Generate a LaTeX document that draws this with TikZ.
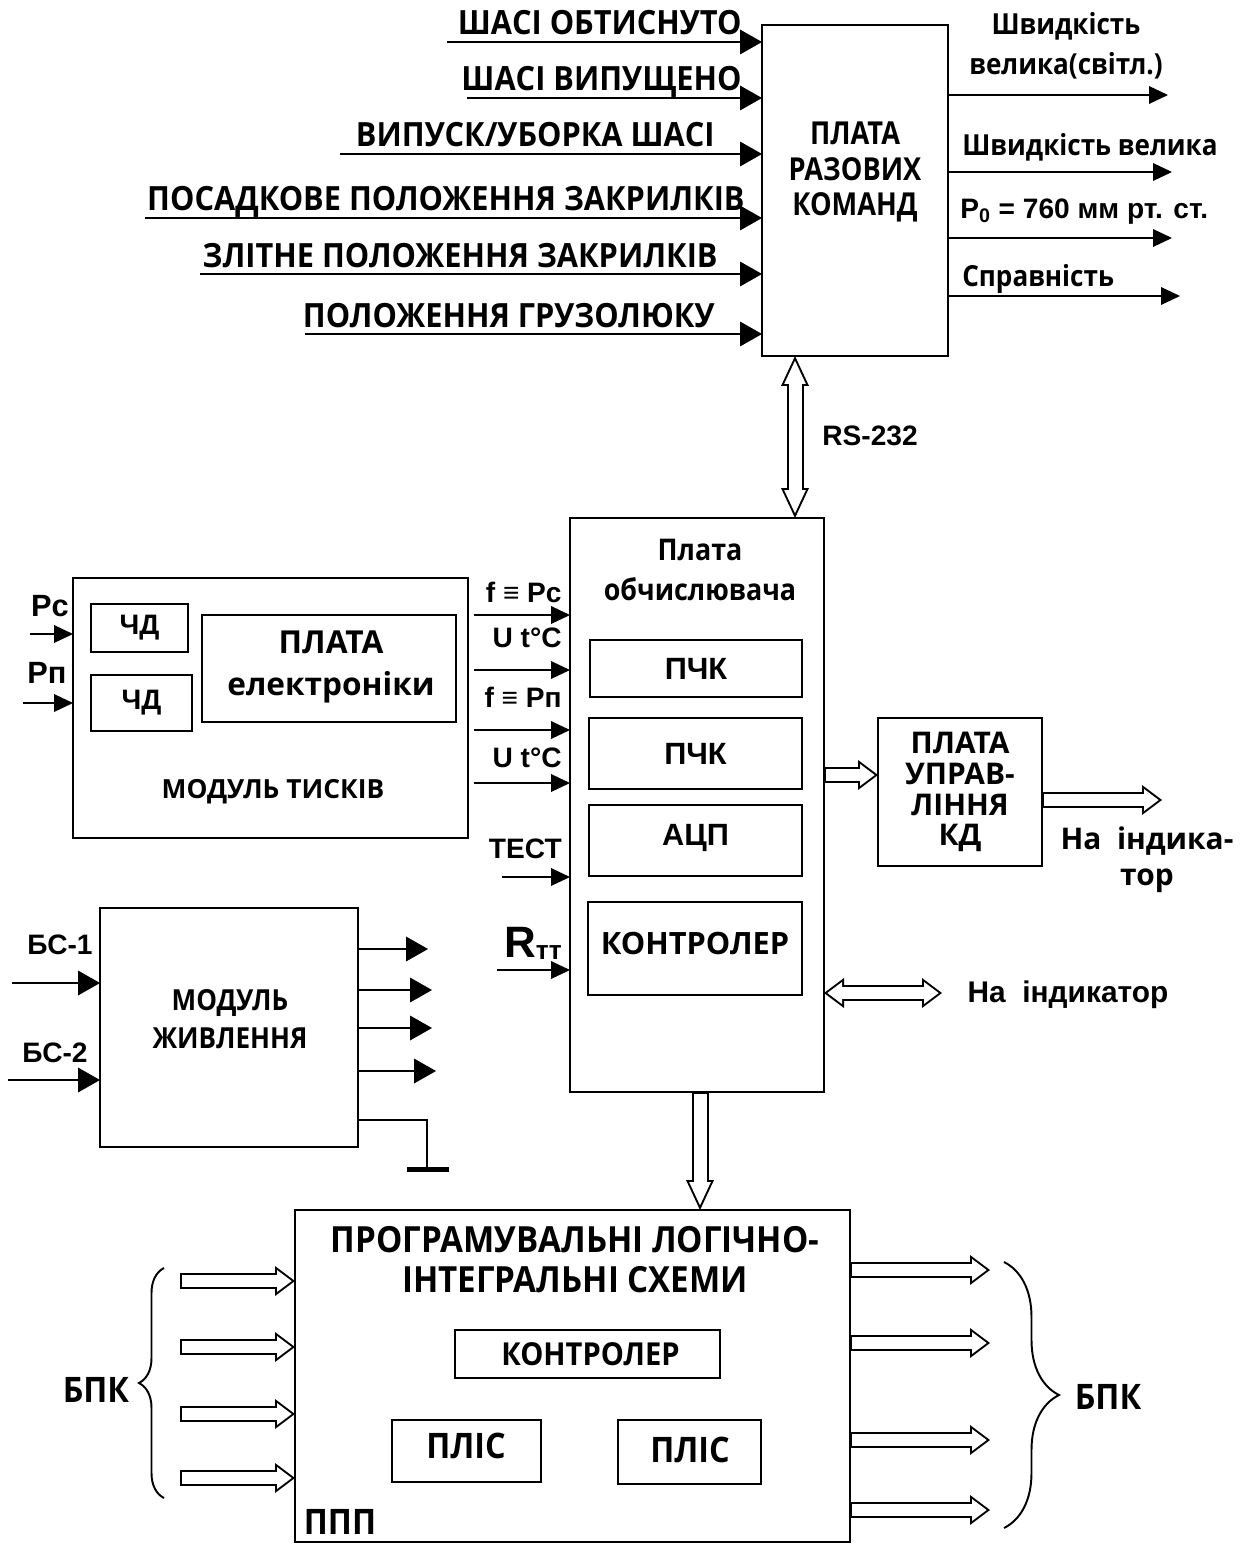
\documentclass[tikz,border=0pt]{standalone}
\usepackage{fontspec}
\setmainfont{Liberation Sans}
\newfontfamily\os{Open Sans}
\newfontfamily\osn[FakeStretch=0.9]{Open Sans}
\newfontfamily\oc[FakeStretch=0.86]{Open Sans}
\newfontfamily\ow[FakeStretch=0.92]{Open Sans}
\usetikzlibrary{arrows.meta,positioning,calc,decorations.pathreplacing}
\tikzset{
  blk/.style 2 args={draw,line width=1.1pt,minimum width=#1*0.02cm,minimum height=#2*0.02cm,inner sep=0pt,outer sep=0pt},
  arr/.style={line width=1.1pt,-{Triangle[length=0.44cm,width=0.50cm,line width=0pt]}},
  arrs/.style={line width=1.1pt,-{Triangle[length=0.38cm,width=0.36cm,line width=0pt]}},
  hol/.style={draw,line width=0.32cm,-{Triangle[length=0.4cm,width=0.6cm,line width=0pt]},
    postaction={draw=white,line width=0.24cm,shorten <=0.04cm,shorten >=0.067cm,-{Triangle[length=0.293cm,width=0.44cm,line width=0pt]}}},
  dhol/.style={draw,line width=0.32cm,{Triangle[length=0.4cm,width=0.6cm,line width=0pt]}-{Triangle[length=0.4cm,width=0.6cm,line width=0pt]},
    postaction={draw=white,line width=0.24cm,shorten <=0.067cm,shorten >=0.067cm,{Triangle[length=0.293cm,width=0.44cm,line width=0pt]}-{Triangle[length=0.293cm,width=0.44cm,line width=0pt]}}},
  vhol/.style={draw,line width=0.34cm,-{Triangle[length=0.6cm,width=0.56cm,line width=0pt]},
    postaction={draw=white,line width=0.26cm,shorten <=0.04cm,shorten >=0.095cm,-{Triangle[length=0.465cm,width=0.434cm,line width=0pt]}}},
  dvhol/.style={draw,line width=0.34cm,{Triangle[length=0.6cm,width=0.56cm,line width=0pt]}-{Triangle[length=0.6cm,width=0.56cm,line width=0pt]},
    postaction={draw=white,line width=0.26cm,shorten <=0.095cm,shorten >=0.095cm,{Triangle[length=0.465cm,width=0.434cm,line width=0pt]}-{Triangle[length=0.465cm,width=0.434cm,line width=0pt]}}},
  brc/.style={decorate,decoration={brace,amplitude=#1},line width=1.1pt},
  toplbl/.style={font=\ow\bfseries\fontsize{19}{22}\selectfont,anchor=base east,inner sep=0pt},
  arb/.style={font=\bfseries\fontsize{16}{19}\selectfont,inner sep=0pt},
}
\begin{document}
\begin{tikzpicture}[x=0.02cm,y=-0.02cm]
\useasboundingbox (0,0) rectangle (1249,1544);
% plata razovykh komand
\node[blk={186}{331}] (prk) at (855,190.5) {};
\node[font=\oc\bfseries\fontsize{18}{20}\selectfont,align=center] (prkt) at (855,172) {ПЛАТА\\РАЗОВИХ\\КОМАНД};
\foreach \y/\x/\r/\t [count=\i] in {42/447/742/{ШАСІ ОБТИСНУТО},98/467/742/{ШАСІ ВИПУЩЕНО},154/340/715/{ВИПУСК/УБОРКА ШАСІ},
    218/145/745/{ПОСАДКОВЕ ПОЛОЖЕННЯ ЗАКРИЛКІВ},274/200/718/{ЗЛІТНЕ ПОЛОЖЕННЯ ЗАКРИЛКІВ},334/305/715/{ПОЛОЖЕННЯ ГРУЗОЛЮКУ}} {
  \coordinate (in\i) at (\x,\y);
  \draw[arr] (in\i) -- (in\i -| prk.west);
  \node[toplbl] (inl\i) at (\r,\y-7) {\t};
}
\foreach \y/\x [count=\i] in {95/1168,172/1172,238/1172,296/1180} {
  \coordinate (out\i) at (\x,\y);
  \draw[arrs] (out\i -| prk.east) -- (out\i);
}
\node[font=\osn\bfseries\fontsize{16.5}{23}\selectfont,align=center] (outl1) at (1066,46) {Швидкість\\велика(світл.)};
\node[font=\osn\bfseries\fontsize{16.5}{20}\selectfont,anchor=base west,inner sep=0pt] (outl2) at (962,156) {Швидкість велика};
\node[arb,anchor=base west] (outl3) at (960,218) {P\textsubscript{0} = 760 мм рт. ст.};
\node[font=\osn\bfseries\fontsize{16.5}{20}\selectfont,anchor=base west,inner sep=0pt] (outl4) at (962,286) {Справність};
% plata obchysliuvacha
\node[blk={254}{574}] (obch) at (697,805) {};
\coordinate (rs) at (795,0);
\draw[dvhol] (prk.south -| rs) -- (obch.north -| rs);
\node[arb] (rsl) at (870,436) {RS-232};
\node[font=\osn\bfseries\fontsize{17}{23}\selectfont,align=center] (obcht) at (700,570) {Плата\\обчислювача};
\node[blk={212}{57}] (pchk1) at (696,668.5) {};
\node[blk={213}{71}] (pchk2) at (695.5,753.5) {};
\node[blk={213}{71}] (adc) at (695.5,840.5) {};
\node[blk={214}{93}] (ktr) at (695,948.5) {};
\node[arb,font=\bfseries\fontsize{17.5}{20}\selectfont] at (pchk1.center) {ПЧК};
\node[arb,font=\bfseries\fontsize{17.5}{20}\selectfont] at (pchk2.center) {ПЧК};
\node[arb,font=\bfseries\fontsize{17.5}{20}\selectfont] at ([yshift=0.06cm]adc.center) {АЦП};
\node[font=\os\bfseries\fontsize{17.5}{20}\selectfont] (ktrt) at (695,944) {КОНТРОЛЕР};
\foreach \y/\x/\b/\t [count=\i] in {615/474/602/{f ≡ Pc},670/474/647/{U t°C},730/474/707/{f ≡ Pп},783/474/767/{U t°C},877/502/858/{ТЕСТ}} {
  \coordinate (ob\i) at (\x,\y);
  \draw[arrs] (ob\i) -- (ob\i -| obch.west);
  \node[arb,anchor=base east] (obl\i) at (562,\b) {\t};
}
\coordinate (ob6) at (497,970);
\draw[arrs] (ob6) -- (ob6 -| obch.west);
\node[arb,anchor=base east] (obl6) at (562,957) {{\fontsize{25}{25}\selectfont R}\raisebox{-0.1em}{\fontsize{15}{15}\selectfont тт}};
% modul tyskiv
\node[blk={395}{260}] (mt) at (270.5,708) {};
\node[blk={97}{48}] (chd1) at (139.5,628) {};
\node[blk={101}{56}] (chd2) at (141.5,703) {};
\node[arb] at (chd1.center) {ЧД};
\node[arb] at (chd2.center) {ЧД};
\node[blk={254}{107}] (pe) at (329,668.5) {};
\node[font=\os\bfseries\fontsize{18}{24}\selectfont,align=center] (pet) at (331,667) {ПЛАТА\\електроніки};
\node[font=\os\bfseries\fontsize{15}{20}\selectfont] (mtt) at (273,792) {МОДУЛЬ ТИСКІВ};
\coordinate (pc) at (30,634);
\coordinate (pn) at (23,703);
\draw[arrs] (pc) -- (pc -| mt.west);
\draw[arrs] (pn) -- (pn -| mt.west);
\node[arb,font=\bfseries\fontsize{17.5}{20}\selectfont] (pcl) at (50,606) {Pc};
\node[arb,font=\bfseries\fontsize{17.5}{20}\selectfont] (pnl) at (47,673) {Pп};
% modul zhyvlennia
\node[blk={258}{239}] (mzh) at (229,1027.5) {};
\node[font=\osn\bfseries\fontsize{16.5}{22}\selectfont,align=center] (mzht) at (230,1019) {МОДУЛЬ\\ЖИВЛЕННЯ};
\coordinate (bs1) at (12,983);
\coordinate (bs2) at (8,1080);
\draw[arr] (bs1) -- (bs1 -| mzh.west);
\draw[arr] (bs2) -- (bs2 -| mzh.west);
\node[arb] (bs1l) at (60,945) {БС-1};
\node[arb] (bs2l) at (55,1053) {БС-2};
\foreach \y/\x [count=\i] in {949/428,990/432,1028/432,1071/436} {
  \coordinate (zo\i) at (\x,\y);
  \draw[arr] (zo\i -| mzh.east) -- (zo\i);
}
\coordinate (gnd) at (427,1168);
\draw[line width=1.1pt] (gnd -| mzh.east) ++(0,-48) -| (gnd);
\draw[line width=0.1cm] (407,1169) -- (449,1169);
% plata upravlinnia KD
\node[blk={164}{148}] (kd) at (960,792) {};
\node[font=\os\bfseries\fontsize{17}{17.6}\selectfont,align=center] (kdt) at (960,792) {ПЛАТА\\УПРАВ-\\ЛІННЯ\\КД};
\draw[hol] (obch.east |- 0,775) -- (kd.west |- 0,775);
\coordinate (ind1) at (1162,800);
\draw[hol] (ind1 -| kd.east) -- (ind1);
\node[font=\os\bfseries\fontsize{17}{20.5}\selectfont,align=center] (ind1l) at (1147,860) {На~ індика-\\тор};
\coordinate (ind2) at (942,993);
\draw[dhol] (ind2 -| obch.east) -- (ind2);
\node[arb,font=\bfseries\fontsize{17}{20}\selectfont] (ind2l) at (1068,995) {На~ індикатор};
% PPP
\node[blk={555}{332}] (ppp) at (572.5,1376) {};
\coordinate (dn) at (700,0);
\draw[vhol] (obch.south -| dn) -- (ppp.north -| dn);
\node[font=\ow\bfseries\fontsize{20.5}{22.8}\selectfont,align=center] (pppt) at (575,1260) {ПРОГРАМУВАЛЬНІ ЛОГІЧНО-\\ІНТЕГРАЛЬНІ СХЕМИ};
\node[blk={265}{48}] (ktr2) at (587.5,1354) {};
\node[font=\ow\bfseries\fontsize{18}{20}\selectfont] at ([xshift=0.06cm]ktr2.center) {КОНТРОЛЕР};
\node[blk={149}{62}] (plis1) at (466.5,1451) {};
\node[blk={143}{64}] (plis2) at (689.5,1452) {};
\node[font=\ow\bfseries\fontsize{20}{20}\selectfont] at (466,1446) {ПЛІС};
\node[font=\ow\bfseries\fontsize{20}{20}\selectfont] at (690,1450) {ПЛІС};
\node[font=\ow\bfseries\fontsize{20}{20}\selectfont] (pppl) at (340,1522) {ППП};
\foreach \y [count=\i] in {1281,1347,1414,1478} {
  \coordinate (bl\i) at (180,\y);
  \draw[hol] (bl\i) -- (bl\i -| ppp.west);
}
\foreach \y [count=\i] in {1270,1343,1440,1510} {
  \coordinate (br\i) at (990,\y);
  \draw[hol] (br\i -| ppp.east) -- (br\i);
}
\draw[brc=0.5cm] (164,1498) -- (164,1268);
\draw[brc=1.1cm] (1004,1262) -- (1004,1528);
\node[font=\ow\bfseries\fontsize{20}{20}\selectfont] (bpkl) at (96,1390) {БПК};
\node[font=\ow\bfseries\fontsize{20}{20}\selectfont] (bpkr) at (1108,1397) {БПК};
\end{tikzpicture}
\end{document}
